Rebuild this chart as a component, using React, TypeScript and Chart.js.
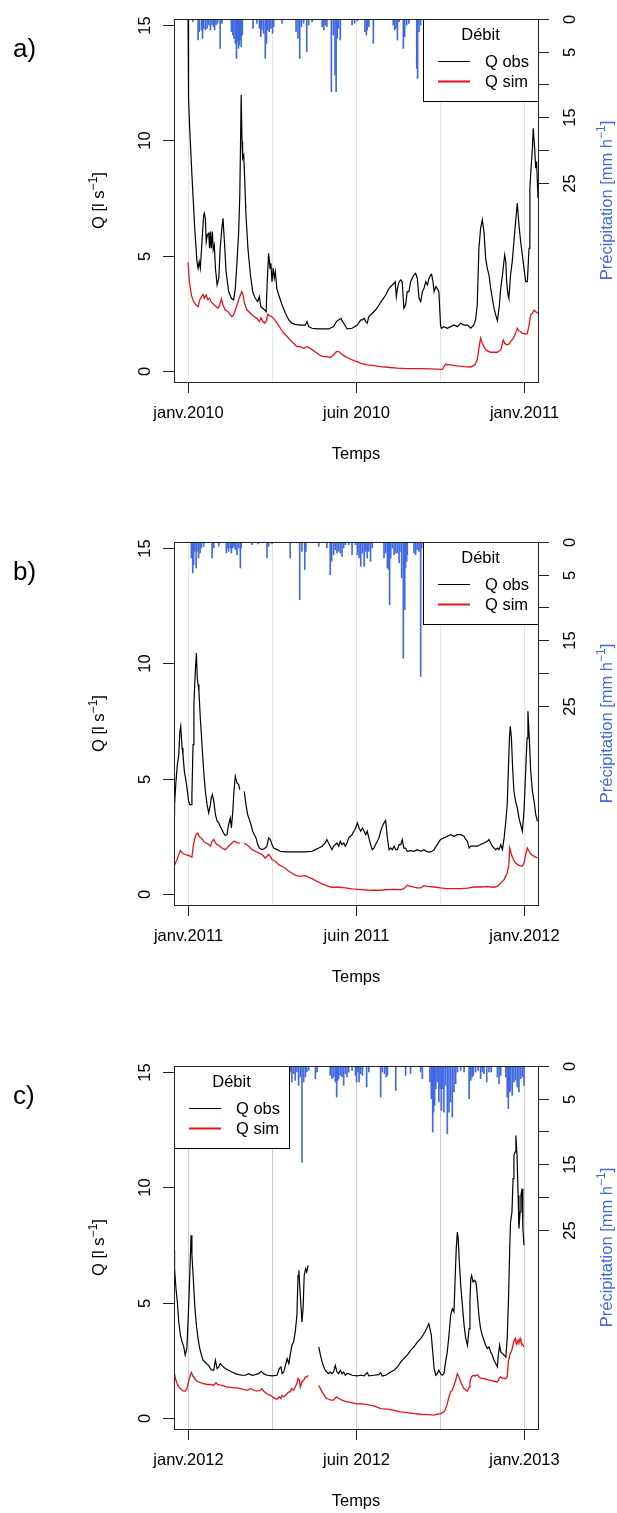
import React, { useEffect, useRef } from 'react';
import { Chart, registerables } from 'chart.js';

Chart.register(...registerables);

const FONT = '"Liberation Sans", Arial, Helvetica, sans-serif';

// ---- axes / ticks ----
const MONTH_TICKS = [0, 6, 12];
const GRID_MONTHS = [0, 3, 6, 9, 12];
const Q_TICKS = [0, 5, 10, 15];
const P_TICKS = [0, 5, 10, 15, 20, 25];
const P_TICK_LABELS = ['0', '5', '', '15', '', '25'];

const A_LABELS = ['janv.2010', 'juin 2010', 'janv.2011'];
const B_LABELS = ['janv.2011', 'juin 2011', 'janv.2012'];
const C_LABELS = ['janv.2012', 'juin 2012', 'janv.2013'];

// ---- panel a) 2010 : [month, value] ----
const aObs: [number, number | null][] = [
  [0, 15.6], [0.02, 11.82], [0.06, 10.52], [0.14, 8.5], [0.24, 6.18], [0.32, 4.74], [0.36, 4.45], [0.4, 4.74], [0.44, 4.45], [0.5, 5.61], [0.56, 6.76], [0.58, 6.84], [0.62, 6.62], [0.65, 5.61], [0.69, 5.9], [0.74, 5.97], [0.77, 5.32], [0.8, 6.04], [0.83, 5.32], [0.87, 6.04], [0.9, 5.25], [0.94, 5.46], [0.98, 4.45], [1.04, 3.73], [1.1, 4.02], [1.15, 5.32], [1.21, 6.18], [1.25, 6.62], [1.3, 5.61], [1.36, 4.31], [1.45, 3.44], [1.55, 3.15], [1.63, 3.08], [1.69, 3.58], [1.75, 4.74], [1.81, 6.04], [1.85, 7.63], [1.88, 10.23], [1.9, 11.97], [1.93, 9.94], [1.95, 9.22], [1.99, 9.36], [2.02, 8.5], [2.07, 6.76], [2.14, 5.32], [2.23, 4.16], [2.31, 3.44], [2.4, 3.15], [2.49, 3.01], [2.55, 3.22], [2.6, 2.79], [2.67, 2.72], [2.74, 2.64], [2.79, 2.57], [2.83, 3.87], [2.88, 5.1], [2.93, 4.45], [2.96, 4.67], [3.0, 3.87], [3.04, 4.45], [3.08, 4.02], [3.12, 4.31], [3.17, 3.58], [3.24, 3.29], [3.36, 2.86], [3.48, 2.5], [3.6, 2.21], [3.71, 2.07], [3.83, 2.02], [4.01, 1.99], [4.19, 1.99], [4.25, 2.14], [4.31, 1.92], [4.43, 1.85], [4.61, 1.82], [4.79, 1.82], [5.02, 1.82], [5.2, 1.92], [5.3, 2.14], [5.38, 2.21], [5.46, 2.28], [5.52, 2.14], [5.6, 1.99], [5.68, 1.82], [5.86, 1.85], [6.05, 1.99], [6.17, 2.21], [6.23, 2.21], [6.29, 2.28], [6.35, 2.14], [6.4, 2.07], [6.46, 2.36], [6.58, 2.5], [6.7, 2.64], [6.82, 2.86], [6.94, 3.08], [7.06, 3.29], [7.18, 3.58], [7.24, 3.66], [7.3, 3.73], [7.36, 3.8], [7.4, 3.87], [7.44, 3.22], [7.48, 3.58], [7.54, 3.87], [7.6, 3.95], [7.65, 3.87], [7.71, 2.72], [7.77, 2.86], [7.83, 3.44], [7.89, 3.44], [7.95, 3.87], [8.01, 4.02], [8.07, 4.16], [8.13, 4.23], [8.19, 4.02], [8.25, 3.15], [8.31, 3.01], [8.37, 3.44], [8.43, 3.58], [8.49, 3.87], [8.55, 3.73], [8.61, 4.02], [8.67, 4.16], [8.7, 4.19], [8.75, 3.87], [8.79, 3.44], [8.85, 3.66], [8.9, 3.58], [8.96, 3.44], [9.02, 1.99], [9.05, 1.85], [9.14, 1.92], [9.26, 1.85], [9.38, 1.92], [9.5, 1.99], [9.62, 1.92], [9.74, 2.07], [9.86, 1.99], [9.98, 1.99], [10.1, 1.85], [10.21, 1.99], [10.27, 2.21], [10.33, 2.86], [10.39, 5.32], [10.45, 6.18], [10.51, 6.55], [10.57, 6.04], [10.63, 4.88], [10.69, 4.45], [10.75, 4.16], [10.81, 3.58], [10.87, 3.15], [10.93, 2.72], [10.99, 2.43], [11.05, 2.17], [11.11, 2.72], [11.17, 3.58], [11.23, 4.16], [11.31, 5.03], [11.35, 4.74], [11.38, 3.87], [11.43, 3.29], [11.46, 3.15], [11.52, 4.16], [11.58, 4.74], [11.64, 5.61], [11.7, 6.47], [11.76, 7.27], [11.82, 6.33], [11.88, 5.61], [11.94, 5.03], [12.0, 4.45], [12.06, 3.87], [12.12, 3.87], [12.18, 5.32], [12.21, 7.92], [12.26, 8.93], [12.3, 9.65], [12.33, 10.52], [12.38, 9.65], [12.42, 8.79], [12.45, 9.08], [12.5, 7.49],
];
const aSim: [number, number | null][] = [
  [0, 4.71], [0.05, 3.87], [0.12, 3.29], [0.2, 3.01], [0.29, 2.86], [0.36, 2.79], [0.42, 3.08], [0.48, 3.22], [0.54, 3.32], [0.58, 3.15], [0.65, 3.29], [0.71, 3.08], [0.77, 3.15], [0.83, 2.98], [0.92, 2.89], [1.0, 2.79], [1.07, 2.72], [1.13, 2.86], [1.19, 3.12], [1.25, 2.86], [1.33, 2.64], [1.43, 2.57], [1.51, 2.43], [1.57, 2.36], [1.63, 2.43], [1.69, 2.64], [1.75, 2.86], [1.81, 3.08], [1.87, 3.29], [1.92, 3.44], [1.96, 3.32], [2.02, 2.93], [2.11, 2.64], [2.23, 2.5], [2.35, 2.36], [2.46, 2.28], [2.55, 2.14], [2.61, 2.31], [2.67, 2.14], [2.74, 2.07], [2.8, 2.17], [2.85, 2.46], [2.9, 2.4], [2.98, 2.36], [3.06, 2.28], [3.18, 2.07], [3.3, 1.85], [3.42, 1.63], [3.54, 1.49], [3.65, 1.34], [3.77, 1.2], [3.89, 1.05], [4.01, 1.05], [4.13, 0.98], [4.25, 1.05], [4.37, 0.98], [4.49, 0.87], [4.61, 0.77], [4.73, 0.66], [4.85, 0.62], [4.96, 0.62], [5.08, 0.58], [5.2, 0.69], [5.3, 0.84], [5.38, 0.84], [5.5, 0.72], [5.62, 0.62], [5.74, 0.55], [5.92, 0.45], [6.04, 0.4], [6.17, 0.33], [6.4, 0.26], [6.64, 0.23], [6.88, 0.19], [7.12, 0.16], [7.48, 0.12], [7.83, 0.1], [8.31, 0.1], [8.67, 0.09], [9.08, 0.07], [9.2, 0.29], [9.38, 0.26], [9.62, 0.22], [9.86, 0.19], [10.1, 0.17], [10.24, 0.26], [10.33, 0.48], [10.39, 0.98], [10.45, 1.42], [10.51, 1.2], [10.6, 0.98], [10.69, 0.87], [10.81, 0.81], [10.93, 0.81], [11.05, 0.81], [11.17, 0.91], [11.26, 1.34], [11.31, 1.2], [11.38, 1.13], [11.46, 1.16], [11.52, 1.27], [11.62, 1.42], [11.7, 1.63], [11.76, 1.85], [11.82, 1.73], [11.88, 1.71], [11.94, 1.63], [12.0, 1.63], [12.06, 1.59], [12.12, 1.63], [12.18, 1.99], [12.24, 2.43], [12.3, 2.5], [12.36, 2.64], [12.42, 2.57], [12.5, 2.5],
];
const aRain: [number, number][] = [
  [0.17, 0.41], [0.36, 3.21], [0.4, 1.94], [0.48, 1.68], [0.52, 2.96], [0.56, 1.43], [0.62, 1.68], [0.68, 1.43], [0.74, 0.92], [0.8, 1.68], [0.86, 0.92], [0.92, 1.17], [0.95, 1.68], [1.0, 0.92], [1.06, 0.66], [1.15, 4.49], [1.21, 0.66], [1.55, 1.94], [1.6, 2.45], [1.64, 2.96], [1.69, 3.72], [1.73, 6.02], [1.76, 3.47], [1.8, 4.49], [1.83, 3.98], [1.87, 3.21], [1.9, 4.23], [1.94, 2.45], [2.32, 1.43], [2.46, 0.66], [2.55, 1.43], [2.6, 2.7], [2.64, 1.68], [2.7, 2.19], [2.76, 6.02], [2.8, 3.72], [2.85, 1.68], [2.9, 1.94], [2.96, 1.43], [3.02, 2.19], [3.06, 1.17], [3.36, 0.66], [3.86, 1.94], [3.93, 2.96], [3.99, 6.02], [4.05, 1.17], [4.13, 0.66], [4.24, 5.0], [4.31, 0.92], [4.43, 0.41], [4.79, 1.17], [4.85, 1.68], [4.9, 0.92], [4.96, 1.17], [5.12, 11.12], [5.19, 2.45], [5.25, 8.57], [5.29, 11.12], [5.33, 2.96], [5.38, 1.43], [5.44, 3.21], [5.86, 0.92], [5.95, 0.66], [6.05, 0.3], [6.32, 1.94], [6.37, 2.45], [6.4, 1.68], [6.46, 1.17], [6.62, 3.72], [7.33, 0.92], [7.38, 1.68], [7.43, 1.43], [7.48, 3.21], [7.54, 0.41], [7.69, 4.49], [7.74, 2.7], [7.81, 0.92], [7.89, 0.66], [8.17, 7.55], [8.2, 9.08], [8.25, 1.94], [8.31, 0.92],
];

// ---- panel b) 2011 ----
const bObs: [number, number | null][] = [
  [-0.5, 3.44], [-0.48, 3.87], [-0.43, 4.88], [-0.38, 5.61], [-0.33, 6.04], [-0.29, 7.05], [-0.26, 7.27], [-0.21, 6.33], [-0.18, 6.04], [-0.13, 5.32], [-0.07, 4.88], [-0.02, 4.45], [0.02, 4.02], [0.06, 3.87], [0.11, 3.87], [0.14, 4.31], [0.18, 6.47], [0.21, 8.21], [0.26, 9.65], [0.3, 10.45], [0.33, 9.36], [0.36, 9.08], [0.39, 8.79], [0.44, 7.63], [0.5, 6.47], [0.56, 5.32], [0.62, 4.45], [0.68, 3.87], [0.74, 3.51], [0.8, 3.87], [0.83, 4.16], [0.87, 4.31], [0.92, 4.02], [0.98, 3.44], [1.04, 3.15], [1.1, 3.08], [1.15, 2.93], [1.21, 2.79], [1.27, 2.64], [1.33, 2.53], [1.39, 2.57], [1.45, 3.01], [1.51, 3.29], [1.55, 2.86], [1.6, 3.58], [1.64, 4.45], [1.69, 5.1], [1.75, 4.81], [1.81, 4.74], [1.85, 4.52], [1.93, null], [2.01, 4.45], [2.07, 3.87], [2.13, 3.44], [2.19, 3.22], [2.25, 3.01], [2.31, 2.72], [2.37, 2.57], [2.43, 2.43], [2.49, 2.14], [2.55, 1.99], [2.64, 1.92], [2.74, 1.97], [2.82, 2.07], [2.88, 2.43], [2.94, 2.36], [3.0, 2.14], [3.06, 1.99], [3.18, 1.92], [3.3, 1.85], [3.48, 1.82], [3.71, 1.82], [3.95, 1.82], [4.19, 1.82], [4.43, 1.85], [4.55, 1.92], [4.67, 1.99], [4.79, 2.07], [4.9, 2.21], [4.96, 2.36], [5.02, 2.21], [5.08, 2.07], [5.14, 1.92], [5.2, 2.07], [5.26, 2.14], [5.32, 2.21], [5.38, 2.07], [5.44, 2.28], [5.5, 2.14], [5.56, 2.21], [5.62, 2.07], [5.68, 2.21], [5.74, 2.43], [5.8, 2.5], [5.86, 2.57], [5.92, 2.72], [5.99, 2.86], [6.05, 3.08], [6.11, 2.86], [6.17, 2.72], [6.23, 2.86], [6.29, 2.72], [6.35, 2.57], [6.4, 2.72], [6.46, 2.43], [6.52, 2.14], [6.58, 1.92], [6.64, 1.99], [6.7, 2.14], [6.76, 2.28], [6.82, 2.43], [6.88, 2.72], [6.94, 2.93], [7.0, 3.08], [7.06, 3.18], [7.12, 2.43], [7.18, 1.92], [7.24, 1.99], [7.3, 1.92], [7.36, 2.07], [7.42, 1.92], [7.48, 1.92], [7.54, 2.14], [7.6, 2.14], [7.65, 2.36], [7.71, 1.99], [7.77, 1.99], [7.83, 1.85], [7.95, 1.88], [8.07, 1.85], [8.19, 1.92], [8.31, 1.85], [8.43, 1.92], [8.55, 1.82], [8.67, 1.82], [8.79, 1.92], [8.9, 2.14], [9.02, 2.36], [9.14, 2.43], [9.26, 2.5], [9.38, 2.57], [9.5, 2.5], [9.62, 2.57], [9.74, 2.57], [9.86, 2.5], [9.92, 2.36], [9.98, 2.28], [10.04, 1.99], [10.1, 2.07], [10.21, 2.07], [10.33, 2.07], [10.45, 2.14], [10.57, 2.21], [10.69, 2.28], [10.75, 2.36], [10.81, 2.21], [10.87, 2.07], [10.93, 1.99], [10.99, 1.92], [11.05, 1.99], [11.11, 1.92], [11.17, 2.14], [11.23, 1.92], [11.29, 2.43], [11.35, 3.15], [11.4, 3.87], [11.44, 5.32], [11.48, 6.76], [11.51, 7.27], [11.55, 6.76], [11.6, 5.32], [11.64, 4.45], [11.7, 4.02], [11.76, 3.73], [11.82, 3.29], [11.88, 3.01], [11.94, 2.72], [12.0, 3.58], [12.06, 5.32], [12.11, 6.76], [12.14, 7.92], [12.19, 6.76], [12.24, 5.32], [12.3, 4.45], [12.36, 4.02], [12.42, 3.44], [12.48, 3.15],
];
const bSim: [number, number | null][] = [
  [-0.5, 1.2], [-0.45, 1.34], [-0.39, 1.49], [-0.33, 1.71], [-0.27, 1.88], [-0.21, 1.78], [-0.15, 1.73], [-0.1, 1.71], [-0.04, 1.68], [0.02, 1.68], [0.08, 1.63], [0.14, 1.6], [0.18, 1.99], [0.23, 2.36], [0.29, 2.57], [0.35, 2.64], [0.4, 2.5], [0.46, 2.43], [0.52, 2.36], [0.58, 2.25], [0.65, 2.21], [0.74, 2.14], [0.8, 2.07], [0.86, 2.28], [0.92, 2.36], [0.98, 2.21], [1.04, 2.14], [1.1, 2.11], [1.21, 1.99], [1.33, 1.92], [1.39, 1.99], [1.45, 2.07], [1.51, 2.14], [1.57, 2.21], [1.63, 2.28], [1.69, 2.28], [1.75, 2.21], [1.85, 2.21], [1.93, null], [2.01, 2.21], [2.07, 2.14], [2.17, 2.07], [2.29, 1.92], [2.4, 1.85], [2.52, 1.78], [2.64, 1.71], [2.76, 1.56], [2.88, 1.71], [2.94, 1.63], [3.0, 1.49], [3.12, 1.42], [3.24, 1.27], [3.36, 1.2], [3.48, 1.1], [3.6, 0.98], [3.71, 0.91], [3.83, 0.81], [3.95, 0.77], [4.07, 0.77], [4.19, 0.79], [4.31, 0.72], [4.43, 0.66], [4.55, 0.58], [4.67, 0.51], [4.79, 0.43], [4.9, 0.38], [5.02, 0.33], [5.14, 0.29], [5.38, 0.29], [5.62, 0.26], [5.86, 0.22], [6.17, 0.19], [6.4, 0.17], [6.64, 0.16], [6.88, 0.16], [7.12, 0.19], [7.36, 0.2], [7.6, 0.19], [7.71, 0.23], [7.83, 0.38], [7.95, 0.33], [8.07, 0.29], [8.19, 0.26], [8.31, 0.26], [8.43, 0.36], [8.55, 0.33], [8.79, 0.3], [9.02, 0.26], [9.26, 0.23], [9.5, 0.23], [9.74, 0.23], [9.98, 0.25], [10.21, 0.3], [10.45, 0.3], [10.69, 0.32], [10.93, 0.29], [11.05, 0.33], [11.17, 0.48], [11.29, 0.62], [11.4, 0.91], [11.46, 1.27], [11.49, 1.99], [11.55, 1.71], [11.62, 1.49], [11.7, 1.34], [11.82, 1.24], [11.94, 1.2], [12.0, 1.34], [12.06, 1.71], [12.12, 1.99], [12.18, 1.85], [12.24, 1.73], [12.36, 1.63], [12.48, 1.56],
];
const bRain: [number, number][] = [
  [0.12, 2.45], [0.17, 4.74], [0.2, 3.47], [0.24, 1.43], [0.29, 3.98], [0.32, 1.43], [0.38, 2.45], [0.43, 1.68], [0.48, 0.92], [0.56, 0.66], [0.86, 2.45], [0.92, 0.92], [1.1, 0.66], [1.37, 1.68], [1.42, 0.92], [1.45, 1.43], [1.51, 0.92], [1.55, 1.68], [1.6, 0.92], [1.64, 0.66], [1.69, 1.17], [1.75, 1.94], [1.81, 0.92], [1.87, 3.98], [1.9, 0.92], [2.29, 0.41], [2.5, 0.3], [2.82, 2.45], [2.88, 0.66], [3.0, 0.3], [3.65, 2.45], [3.99, 8.83], [4.07, 1.43], [4.17, 4.23], [4.21, 1.43], [4.67, 0.66], [4.96, 0.92], [5.08, 5.0], [5.13, 2.96], [5.2, 1.94], [5.26, 1.17], [5.32, 1.68], [5.38, 1.43], [5.44, 1.68], [5.5, 2.19], [5.56, 0.92], [5.62, 0.41], [5.74, 0.41], [5.86, 1.94], [5.98, 0.41], [6.05, 1.94], [6.11, 2.45], [6.17, 3.72], [6.23, 1.68], [6.29, 3.72], [6.35, 1.43], [6.4, 2.45], [6.46, 1.43], [6.52, 2.96], [6.58, 0.92], [7.0, 2.45], [7.06, 1.68], [7.12, 3.98], [7.17, 4.23], [7.2, 9.59], [7.24, 2.45], [7.3, 0.92], [7.36, 1.94], [7.42, 1.68], [7.48, 1.68], [7.54, 3.21], [7.57, 1.43], [7.63, 5.51], [7.69, 17.76], [7.74, 10.36], [7.77, 3.98], [7.81, 2.96], [7.83, 1.94], [8.07, 1.68], [8.13, 1.94], [8.19, 1.17], [8.25, 1.43], [8.31, 20.56], [8.35, 0.92],
];

// ---- panel c) 2012 ----
const cObs: [number, number | null][] = [
  [-0.5, 7.27], [-0.48, 6.47], [-0.43, 5.61], [-0.38, 5.03], [-0.33, 4.16], [-0.27, 3.58], [-0.21, 3.29], [-0.15, 3.08], [-0.1, 2.72], [-0.04, 3.01], [0.02, 4.74], [0.07, 6.47], [0.11, 7.92], [0.14, 7.05], [0.19, 6.04], [0.24, 4.88], [0.3, 4.02], [0.36, 3.44], [0.42, 3.01], [0.48, 2.72], [0.54, 2.5], [0.6, 2.43], [0.65, 2.36], [0.74, 2.28], [0.8, 2.14], [0.86, 2.07], [0.92, 2.07], [0.98, 2.5], [1.04, 2.14], [1.1, 2.21], [1.15, 2.36], [1.21, 2.28], [1.27, 2.21], [1.33, 2.14], [1.45, 2.07], [1.57, 1.99], [1.69, 1.92], [1.81, 1.88], [1.93, 1.85], [2.05, 1.85], [2.17, 1.92], [2.29, 1.85], [2.4, 1.88], [2.52, 1.92], [2.62, 2.02], [2.7, 1.92], [2.82, 1.85], [3.0, 1.82], [3.18, 1.85], [3.26, 2.14], [3.32, 2.21], [3.36, 1.92], [3.42, 1.99], [3.48, 2.28], [3.54, 2.57], [3.6, 2.36], [3.65, 2.72], [3.71, 3.15], [3.77, 3.29], [3.83, 3.73], [3.89, 4.45], [3.93, 6.18], [3.96, 6.4], [4.01, 5.32], [4.07, 4.16], [4.11, 4.74], [4.15, 6.18], [4.2, 6.47], [4.24, 6.33], [4.29, 6.62], [4.48, null], [4.67, 3.08], [4.73, 2.72], [4.79, 2.43], [4.85, 2.21], [4.9, 2.07], [4.96, 1.99], [5.02, 1.92], [5.08, 1.99], [5.14, 1.92], [5.2, 1.99], [5.26, 2.28], [5.32, 1.99], [5.38, 1.92], [5.44, 2.07], [5.5, 1.92], [5.56, 1.99], [5.62, 1.85], [5.68, 1.92], [5.74, 1.92], [5.86, 1.85], [6.04, 1.82], [6.17, 1.85], [6.29, 1.82], [6.4, 1.97], [6.46, 1.82], [6.64, 1.85], [6.82, 1.88], [6.88, 1.97], [6.94, 1.82], [7.06, 1.85], [7.24, 1.99], [7.36, 2.07], [7.48, 2.21], [7.6, 2.43], [7.71, 2.57], [7.83, 2.72], [7.95, 2.93], [8.07, 3.08], [8.19, 3.29], [8.31, 3.44], [8.43, 3.66], [8.52, 3.87], [8.6, 4.09], [8.64, 3.87], [8.69, 3.58], [8.74, 2.86], [8.79, 2.14], [8.85, 1.85], [8.9, 1.92], [8.96, 2.07], [9.02, 1.92], [9.08, 1.85], [9.14, 1.92], [9.2, 2.43], [9.26, 2.86], [9.32, 3.58], [9.38, 4.45], [9.44, 4.74], [9.5, 4.6], [9.54, 6.04], [9.58, 7.34], [9.62, 8.06], [9.65, 7.77], [9.69, 6.76], [9.74, 5.75], [9.8, 4.88], [9.86, 4.02], [9.92, 3.44], [9.98, 3.15], [10.04, 3.87], [10.07, 5.03], [10.1, 6.04], [10.13, 6.18], [10.18, 5.9], [10.23, 5.97], [10.28, 5.9], [10.31, 5.61], [10.36, 4.88], [10.4, 4.31], [10.45, 3.87], [10.51, 3.58], [10.57, 3.37], [10.63, 3.15], [10.69, 3.01], [10.75, 3.08], [10.81, 2.86], [10.87, 2.72], [10.93, 2.5], [10.99, 2.36], [11.05, 2.21], [11.08, 2.72], [11.13, 3.15], [11.17, 2.86], [11.23, 2.79], [11.29, 2.72], [11.35, 2.64], [11.4, 3.44], [11.45, 5.32], [11.49, 7.34], [11.52, 8.5], [11.57, 8.93], [11.61, 10.38], [11.64, 11.39], [11.68, 11.53], [11.71, 12.25], [11.75, 11.39], [11.79, 9.65], [11.82, 8.21], [11.86, 8.93], [11.89, 9.65], [11.93, 9.94], [11.96, 8.21], [12.0, 7.49],
];
const cSim: [number, number | null][] = [
  [-0.5, 2.02], [-0.45, 1.71], [-0.39, 1.49], [-0.33, 1.34], [-0.27, 1.27], [-0.21, 1.2], [-0.15, 1.16], [-0.1, 1.16], [-0.04, 1.27], [0.02, 1.56], [0.08, 1.85], [0.12, 1.97], [0.17, 1.82], [0.24, 1.71], [0.32, 1.59], [0.44, 1.53], [0.56, 1.49], [0.68, 1.45], [0.8, 1.45], [0.92, 1.42], [1.0, 1.53], [1.06, 1.45], [1.15, 1.42], [1.27, 1.39], [1.39, 1.34], [1.51, 1.34], [1.63, 1.3], [1.75, 1.3], [1.87, 1.27], [1.99, 1.24], [2.11, 1.2], [2.23, 1.27], [2.35, 1.2], [2.46, 1.16], [2.58, 1.2], [2.64, 1.27], [2.7, 1.16], [2.82, 1.05], [2.94, 0.98], [3.06, 0.87], [3.18, 0.81], [3.26, 0.91], [3.32, 0.84], [3.36, 0.98], [3.42, 0.91], [3.48, 0.98], [3.54, 1.05], [3.6, 1.13], [3.65, 1.13], [3.71, 1.27], [3.77, 1.2], [3.83, 1.34], [3.89, 1.49], [3.93, 1.71], [3.98, 1.63], [4.01, 1.34], [4.07, 1.56], [4.13, 1.63], [4.19, 1.78], [4.25, 1.78], [4.29, 1.85], [4.48, null], [4.67, 1.42], [4.73, 1.27], [4.79, 1.13], [4.85, 1.01], [4.9, 0.91], [4.96, 0.84], [5.02, 0.81], [5.12, 0.77], [5.2, 0.77], [5.26, 0.87], [5.32, 0.91], [5.38, 0.84], [5.44, 0.81], [5.5, 0.77], [5.62, 0.72], [5.74, 0.69], [5.86, 0.66], [6.04, 0.61], [6.17, 0.62], [6.4, 0.58], [6.64, 0.52], [6.88, 0.4], [7.12, 0.38], [7.36, 0.33], [7.6, 0.26], [7.83, 0.23], [8.07, 0.19], [8.31, 0.16], [8.55, 0.14], [8.79, 0.12], [8.9, 0.16], [9.02, 0.19], [9.14, 0.26], [9.2, 0.4], [9.26, 0.62], [9.32, 0.91], [9.38, 1.13], [9.44, 1.2], [9.5, 1.42], [9.56, 1.63], [9.62, 1.92], [9.68, 1.78], [9.74, 1.56], [9.8, 1.39], [9.86, 1.27], [9.92, 1.2], [9.98, 1.16], [10.04, 1.34], [10.07, 1.56], [10.12, 1.78], [10.19, 1.85], [10.27, 1.82], [10.33, 1.88], [10.39, 1.78], [10.45, 1.73], [10.57, 1.71], [10.69, 1.66], [10.81, 1.63], [10.93, 1.59], [11.05, 1.56], [11.11, 1.71], [11.17, 1.78], [11.23, 1.73], [11.29, 1.71], [11.35, 1.71], [11.4, 1.78], [11.44, 2.43], [11.49, 2.72], [11.54, 2.86], [11.58, 3.01], [11.63, 3.29], [11.68, 3.44], [11.71, 3.29], [11.75, 3.22], [11.79, 3.37], [11.82, 3.29], [11.86, 3.44], [11.89, 3.29], [11.93, 3.22], [12.0, 3.08],
];
const cRain: [number, number][] = [
  [3.62, 1.68], [3.67, 0.92], [3.71, 2.45], [3.77, 1.17], [3.83, 2.19], [3.89, 0.92], [3.95, 2.96], [4.01, 1.68], [4.07, 14.69], [4.13, 2.45], [4.19, 1.68], [4.24, 0.92], [4.31, 0.66], [4.55, 1.94], [4.61, 0.92], [5.08, 1.43], [5.14, 1.94], [5.2, 1.68], [5.26, 2.45], [5.31, 4.74], [5.35, 2.19], [5.38, 1.94], [5.44, 1.43], [5.5, 1.68], [5.56, 2.96], [5.62, 1.17], [5.68, 1.68], [5.74, 0.92], [5.86, 0.66], [5.98, 1.43], [6.02, 2.45], [6.07, 0.92], [6.11, 2.45], [6.17, 1.17], [6.23, 1.43], [6.38, 3.21], [6.46, 0.92], [6.88, 4.74], [6.94, 0.92], [7.02, 1.17], [7.08, 1.68], [7.12, 1.43], [7.42, 3.72], [7.77, 1.43], [7.95, 1.17], [8.31, 0.92], [8.37, 1.94], [8.64, 2.45], [8.69, 5.0], [8.74, 10.1], [8.77, 7.04], [8.81, 6.02], [8.85, 3.47], [8.9, 2.45], [8.96, 5.51], [9.0, 3.47], [9.05, 6.79], [9.1, 3.47], [9.14, 7.04], [9.2, 2.96], [9.26, 10.36], [9.32, 7.04], [9.38, 5.51], [9.44, 7.81], [9.5, 3.98], [9.56, 2.7], [9.62, 0.92], [9.74, 0.66], [9.86, 0.92], [10.04, 5.0], [10.1, 2.19], [10.15, 1.68], [10.19, 1.43], [10.27, 0.92], [10.36, 0.66], [10.45, 1.94], [10.51, 0.92], [10.57, 1.17], [10.67, 2.45], [10.75, 0.92], [10.83, 0.92], [11.05, 1.68], [11.11, 2.7], [11.17, 1.43], [11.35, 1.68], [11.4, 4.74], [11.44, 6.53], [11.49, 3.98], [11.52, 3.72], [11.58, 4.49], [11.64, 2.45], [11.7, 2.19], [11.76, 3.21], [11.82, 3.98], [11.88, 1.94], [11.94, 1.68], [12.0, 2.96],
];

const OBS_COLOR = '#000000';
const SIM_COLOR = '#e8121a';
const RAIN_COLOR = '#4169E1';

function drawRotText(ctx: CanvasRenderingContext2D, text: string, x: number, y: number, font: string, color: string) {
  ctx.save();
  ctx.translate(x, y);
  ctx.rotate(-Math.PI / 2);
  ctx.font = font;
  ctx.fillStyle = color;
  ctx.textAlign = 'center';
  ctx.textBaseline = 'alphabetic';
  ctx.fillText(text, 0, 0);
  ctx.restore();
}

function drawSupLabel(ctx: CanvasRenderingContext2D, x: number, y: number, before: string, sup: string, after: string, color: string, size: number) {
  ctx.save();
  ctx.translate(x, y);
  ctx.rotate(-Math.PI / 2);
  ctx.fillStyle = color;
  ctx.textBaseline = 'alphabetic';
  ctx.textAlign = 'left';
  const f1 = `${size}px ${FONT}`;
  const f2 = `${Math.round(size * 0.72)}px ${FONT}`;
  ctx.font = f1;
  const w1 = ctx.measureText(before).width;
  const w3 = ctx.measureText(after).width;
  ctx.font = f2;
  const w2 = ctx.measureText(sup).width;
  let cx = -(w1 + w2 + w3) / 2;
  ctx.font = f1;
  ctx.fillText(before, cx, 0);
  cx += w1;
  ctx.font = f2;
  ctx.fillText(sup, cx, -size * 0.42);
  cx += w2;
  ctx.font = f1;
  ctx.fillText(after, cx, 0);
  ctx.restore();
}

const decorPlugin = {
  id: 'panelDecor',
  beforeDatasetsDraw(chart: any, _args: any, opts: any) {
    const { ctx, chartArea: ca, scales } = chart;
    ctx.save();
    ctx.strokeStyle = opts.gridColor;
    ctx.lineWidth = 1;
    for (const m of GRID_MONTHS) {
      const x = Math.round(scales.x.getPixelForValue(m)) + 0.5;
      ctx.beginPath();
      ctx.moveTo(x, ca.top);
      ctx.lineTo(x, ca.bottom);
      ctx.stroke();
    }
    ctx.restore();
  },
  afterDatasetsDraw(chart: any, _args: any, opts: any) {
    const { ctx, chartArea: ca, scales } = chart;
    const size = 16.5;
    const font = `${size}px ${FONT}`;
    ctx.save();

    // legend
    const lw = 115, lh = 82;
    const bx = opts.legendSide === 'right' ? ca.right - lw : ca.left;
    const by = ca.top;
    ctx.fillStyle = '#ffffff';
    ctx.fillRect(bx, by, lw, lh);
    ctx.strokeStyle = '#000000';
    ctx.lineWidth = 1;
    ctx.strokeRect(Math.round(bx) + 0.5, Math.round(by) + 0.5, lw, lh);
    ctx.fillStyle = '#000000';
    ctx.font = font;
    ctx.textAlign = 'center';
    ctx.textBaseline = 'alphabetic';
    ctx.fillText('Débit', bx + lw / 2, by + 21);
    ctx.textAlign = 'left';
    const items = [
      { label: 'Q obs', color: OBS_COLOR, w: 1, dy: 42 },
      { label: 'Q sim', color: SIM_COLOR, w: 2, dy: 62 },
    ];
    for (const it of items) {
      ctx.strokeStyle = it.color;
      ctx.lineWidth = it.w;
      ctx.beginPath();
      ctx.moveTo(bx + 15, by + it.dy + 0.5);
      ctx.lineTo(bx + 47, by + it.dy + 0.5);
      ctx.stroke();
      ctx.fillStyle = '#000000';
      ctx.fillText(it.label, bx + 62, by + it.dy + 6);
    }

    // plot box
    ctx.strokeStyle = '#222222';
    ctx.lineWidth = 1;
    ctx.strokeRect(Math.round(ca.left) + 0.5, Math.round(ca.top) + 0.5, Math.round(ca.right - ca.left), Math.round(ca.bottom - ca.top));

    // left axis (Q)
    ctx.strokeStyle = '#222222';
    for (const v of Q_TICKS) {
      const y = Math.round(scales.y.getPixelForValue(v)) + 0.5;
      ctx.beginPath();
      ctx.moveTo(ca.left - 11, y);
      ctx.lineTo(ca.left, y);
      ctx.stroke();
      drawRotText(ctx, String(v), ca.left - 24, y, font, '#000000');
    }
    // right axis (rain)
    P_TICKS.forEach((v, i) => {
      const y = Math.round(scales.y2.getPixelForValue(v)) + 0.5;
      ctx.strokeStyle = '#222222';
      ctx.beginPath();
      ctx.moveTo(ca.right, y);
      ctx.lineTo(ca.right + 11, y);
      ctx.stroke();
      if (P_TICK_LABELS[i]) drawRotText(ctx, P_TICK_LABELS[i], ca.right + 37, y, font, '#000000');
    });
    // bottom axis
    MONTH_TICKS.forEach((m, i) => {
      const x = Math.round(scales.x.getPixelForValue(m)) + 0.5;
      ctx.strokeStyle = '#222222';
      ctx.beginPath();
      ctx.moveTo(x, ca.bottom);
      ctx.lineTo(x, ca.bottom + 11);
      ctx.stroke();
      ctx.fillStyle = '#000000';
      ctx.font = font;
      ctx.textAlign = 'center';
      ctx.textBaseline = 'alphabetic';
      ctx.fillText(opts.tickLabels[i], x, ca.bottom + 36);
    });
    ctx.fillStyle = '#000000';
    ctx.font = font;
    ctx.textAlign = 'center';
    ctx.fillText('Temps', (ca.left + ca.right) / 2, ca.bottom + 77);

    const midY = (ca.top + ca.bottom) / 2;
    drawSupLabel(ctx, ca.left - 70, midY, 'Q [l s', '\u22121', ']', '#000000', size);
    drawSupLabel(ctx, ca.right + 74, midY, 'Précipitation [mm h', '\u22121', ']', RAIN_COLOR, size);

    // panel tag
    ctx.fillStyle = '#000000';
    ctx.font = `26px ${FONT}`;
    ctx.textAlign = 'left';
    ctx.fillText(opts.tag, 13, ca.top + 38);
    ctx.restore();
  },
};

type Pair = [number, number | null];

function toPts(arr: Pair[]) {
  return arr.map(([x, y]) => ({ x, y }));
}

function Panel(props: { top: number; tag: string; obs: Pair[]; sim: Pair[]; rain: [number, number][]; labels: string[]; legendSide: string; gridColor: string }) {
  const ref = useRef<HTMLCanvasElement | null>(null);
  useEffect(() => {
    if (!ref.current) return;
    const chart = new Chart(ref.current, {
      type: 'line',
      data: {
        datasets: [
          { type: 'line', label: 'Q obs', data: toPts(props.obs) as any, borderColor: OBS_COLOR, borderWidth: 1.2, pointRadius: 0, tension: 0, spanGaps: false, yAxisID: 'y', xAxisID: 'x' },
          { type: 'line', label: 'Q sim', data: toPts(props.sim) as any, borderColor: SIM_COLOR, borderWidth: 1.3, pointRadius: 0, tension: 0, spanGaps: false, yAxisID: 'y', xAxisID: 'x' },
          { type: 'bar', label: 'Précipitation', data: toPts(props.rain) as any, backgroundColor: RAIN_COLOR, borderWidth: 0, barThickness: 1, yAxisID: 'y2', xAxisID: 'x' } as any,
        ],
      },
      options: {
        responsive: false,
        animation: false,
        devicePixelRatio: 1,
        events: [],
        layout: { padding: { left: 174, right: 79, top: 19, bottom: 141 } },
        scales: {
          x: { type: 'linear', min: -0.5, max: 12.5, display: false, offset: false, bounds: 'data' } as any,
          y: { type: 'linear', min: -0.48, max: 15.26, display: false } as any,
          y2: { type: 'linear', min: 0, max: 55.5, reverse: true, display: false } as any,
        },
        plugins: {
          legend: { display: false },
          tooltip: { enabled: false },
          panelDecor: { tickLabels: props.labels, legendSide: props.legendSide, gridColor: props.gridColor, tag: props.tag },
        } as any,
      },
      plugins: [decorPlugin as any],
    });
    return () => chart.destroy();
  }, []);
  return (
    <canvas
      ref={ref}
      width={617}
      height={523}
      style={{ position: 'absolute', left: 0, top: props.top, width: 617, height: 523, display: 'block' }}
    />
  );
}

export default function App() {
  return (
    <div style={{ position: 'absolute', left: 0, top: 0, width: 617, height: 1513, overflow: 'hidden', background: '#ffffff' }}>
      <Panel top={0} tag="a)" obs={aObs} sim={aSim} rain={aRain} labels={A_LABELS} legendSide="right" gridColor="#e6e6e6" />
      <Panel top={523} tag="b)" obs={bObs} sim={bSim} rain={bRain} labels={B_LABELS} legendSide="right" gridColor="#e6e6e6" />
      <Panel top={1047} tag="c)" obs={cObs} sim={cSim} rain={cRain} labels={C_LABELS} legendSide="left" gridColor="#cccccc" />
    </div>
  );
}
